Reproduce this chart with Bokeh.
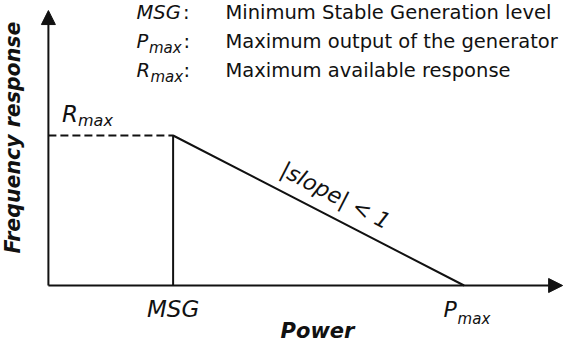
import math
from bokeh.plotting import figure
from bokeh.models import Arrow, NormalHead, Label, Range1d
from bokeh.embed import file_html
from bokeh.resources import INLINE

# ---------------- data ----------------
msg = 0.3          # Minimum Stable Generation level (power)
pmax = 1.0         # Maximum output of the generator (power)
rmax = 1.0         # Maximum available response
curve_power = [msg, msg, pmax]
curve_response = [0.0, rmax, 0.0]
dash_power = [0.0, msg]
dash_response = [rmax, rmax]

legend_symbols = ["MSG", "P", "R"]
legend_subs = ["", "max", "max"]
legend_desc = ["Minimum Stable Generation level",
               "Maximum output of the generator",
               "Maximum available response"]
x_title = "Power"
y_title = "Frequency response"
slope_text = "|slope| < 1"
tick_msg = "MSG"
tick_pmax = ("P", "max")
rmax_label = ("R", "max")

# ---------------- layout ----------------
W, H = 563, 344
OX, OY = 47.9, 285.0      # origin in canvas px (y down)
SX, SY = 415.7, 150.0     # px per data unit
x_tip, y_tip = 1.237, 1.833

x0, x1 = -OX / SX, (W - OX) / SX
y1, y0 = OY / SY, -(H - OY) / SY


def px(fx, fy):
    """canvas pixel (y down) -> data coordinates"""
    return (fx - OX) / SX, (OY - fy) / SY


def dx(x):
    return OX + x * SX


FONT = "DejaVu Sans"
INK = "#111111"

p = figure(width=W, height=H, x_range=Range1d(x0, x1), y_range=Range1d(y0, y1),
           output_backend="svg", toolbar_location=None,
           x_axis_type=None, y_axis_type=None, min_border=0,
           outline_line_color=None, background_fill_color="white",
           border_fill_color="white")
p.grid.visible = False

# axes with arrows
head = dict(size=14, fill_color=INK, line_color=INK)
p.add_layout(Arrow(x_start=0, y_start=0, x_end=x_tip, y_end=0,
                   end=NormalHead(**head), line_width=2, line_color=INK))
p.add_layout(Arrow(x_start=0, y_start=0, x_end=0, y_end=y_tip,
                   end=NormalHead(**head), line_width=2, line_color=INK))

# curve
p.line(curve_power, curve_response, line_width=2, line_color=INK)
p.line(dash_power, dash_response, line_width=2, line_color=INK, line_dash="8 4")


def lab(fx, base, text, size, style="normal", align="left", angle=0.0, mid=None):
    """place text by its baseline (canvas px); drawn with middle baseline"""
    cy = mid if mid is not None else base - 0.36 * size
    x, y = px(fx, cy)
    p.add_layout(Label(x=x, y=y, text=text, text_font=FONT, text_font_size=f"{size}px",
                       text_font_style=style, text_color=INK, text_align=align,
                       text_baseline="middle", angle=angle))


# legend block
rows_base = [19, 48, 77]
sub_x = [None, 148.5, 150]
colon_x = [182.5, 183, 183]
for sym, sub, desc, yb, sx, cx in zip(legend_symbols, legend_subs, legend_desc, rows_base, sub_x, colon_x):
    lab(136, yb, sym, 19.5, "italic")
    if sub:
        lab(sx, yb + 4.5, sub, 15, "italic")
    lab(cx, yb, ":", 19.5)
    lab(225, yb, desc, 19.5)

# R_max label
lab(61.5, 122, rmax_label[0], 23, "italic")
lab(77.5, 126, rmax_label[1], 16, "italic")

# tick-like labels
lab(dx(msg), 317, tick_msg, 23, "italic", align="center")
lab(dx(pmax) - 20.5, 317, tick_pmax[0], 22, "italic")
lab(dx(pmax) - 6.5, 324, tick_pmax[1], 15, "italic")

# slope text
lab(335, 0, slope_text, 22, "italic", align="center",
    angle=-math.atan((SY * rmax / (SX * (pmax - msg)))), mid=195)

# axis titles
lab(317, 338, x_title, 21, "bold italic", align="center")
lab(12, 0, y_title, 20.5, "bold italic", align="left", angle=math.pi / 2, mid=253)

open("out.html", "w").write(file_html(p, INLINE))
